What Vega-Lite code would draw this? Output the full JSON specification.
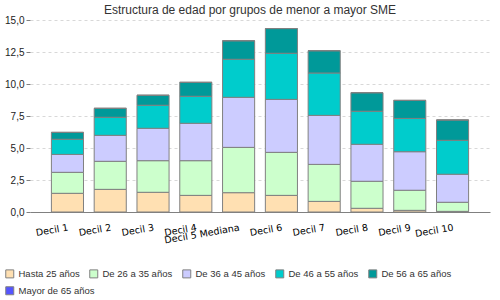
{
  "$schema": "https://vega.github.io/schema/vega-lite/v6.json",
  "width": 460,
  "height": 192,
  "autosize": {"type": "none"},
  "padding": {"left": 30, "top": 20, "right": 10, "bottom": 88},
  "background": "white",
  "title": {
    "text": "Estructura de edad por grupos de menor a mayor SME",
    "font": "Liberation Sans",
    "fontSize": 12,
    "fontWeight": "normal",
    "color": "#333333",
    "anchor": "middle",
    "dx": -10,
    "offset": -2
  },
  "config": {
    "view": {"stroke": null}
  },
  "data": {
    "values": [
      {"decil": "Decil 1", "grupo": "Hasta 25 años", "n": 1, "valor": 1.46},
      {"decil": "Decil 1", "grupo": "De 26 a 35 años", "n": 2, "valor": 1.64},
      {"decil": "Decil 1", "grupo": "De 36 a 45 años", "n": 3, "valor": 1.40},
      {"decil": "Decil 1", "grupo": "De 46 a 55 años", "n": 4, "valor": 1.18},
      {"decil": "Decil 1", "grupo": "De 56 a 65 años", "n": 5, "valor": 0.54},
      {"decil": "Decil 1", "grupo": "Mayor de 65 años", "n": 6, "valor": 0},
      {"decil": "Decil 2", "grupo": "Hasta 25 años", "n": 1, "valor": 1.77},
      {"decil": "Decil 2", "grupo": "De 26 a 35 años", "n": 2, "valor": 2.19},
      {"decil": "Decil 2", "grupo": "De 36 a 45 años", "n": 3, "valor": 2.03},
      {"decil": "Decil 2", "grupo": "De 46 a 55 años", "n": 4, "valor": 1.41},
      {"decil": "Decil 2", "grupo": "De 56 a 65 años", "n": 5, "valor": 0.70},
      {"decil": "Decil 2", "grupo": "Mayor de 65 años", "n": 6, "valor": 0},
      {"decil": "Decil 3", "grupo": "Hasta 25 años", "n": 1, "valor": 1.54},
      {"decil": "Decil 3", "grupo": "De 26 a 35 años", "n": 2, "valor": 2.47},
      {"decil": "Decil 3", "grupo": "De 36 a 45 años", "n": 3, "valor": 2.53},
      {"decil": "Decil 3", "grupo": "De 46 a 55 años", "n": 4, "valor": 1.80},
      {"decil": "Decil 3", "grupo": "De 56 a 65 años", "n": 5, "valor": 0.78},
      {"decil": "Decil 3", "grupo": "Mayor de 65 años", "n": 6, "valor": 0},
      {"decil": "Decil 4", "grupo": "Hasta 25 años", "n": 1, "valor": 1.30},
      {"decil": "Decil 4", "grupo": "De 26 a 35 años", "n": 2, "valor": 2.71},
      {"decil": "Decil 4", "grupo": "De 36 a 45 años", "n": 3, "valor": 2.92},
      {"decil": "Decil 4", "grupo": "De 46 a 55 años", "n": 4, "valor": 2.11},
      {"decil": "Decil 4", "grupo": "De 56 a 65 años", "n": 5, "valor": 1.09},
      {"decil": "Decil 4", "grupo": "Mayor de 65 años", "n": 6, "valor": 0},
      {"decil": "Decil 5 Mediana", "grupo": "Hasta 25 años", "n": 1, "valor": 1.51},
      {"decil": "Decil 5 Mediana", "grupo": "De 26 a 35 años", "n": 2, "valor": 3.54},
      {"decil": "Decil 5 Mediana", "grupo": "De 36 a 45 años", "n": 3, "valor": 3.91},
      {"decil": "Decil 5 Mediana", "grupo": "De 46 a 55 años", "n": 4, "valor": 2.97},
      {"decil": "Decil 5 Mediana", "grupo": "De 56 a 65 años", "n": 5, "valor": 1.45},
      {"decil": "Decil 5 Mediana", "grupo": "Mayor de 65 años", "n": 6, "valor": 0},
      {"decil": "Decil 6", "grupo": "Hasta 25 años", "n": 1, "valor": 1.30},
      {"decil": "Decil 6", "grupo": "De 26 a 35 años", "n": 2, "valor": 3.36},
      {"decil": "Decil 6", "grupo": "De 36 a 45 años", "n": 3, "valor": 4.14},
      {"decil": "Decil 6", "grupo": "De 46 a 55 años", "n": 4, "valor": 3.60},
      {"decil": "Decil 6", "grupo": "De 56 a 65 años", "n": 5, "valor": 1.93},
      {"decil": "Decil 6", "grupo": "Mayor de 65 años", "n": 6, "valor": 0},
      {"decil": "Decil 7", "grupo": "Hasta 25 años", "n": 1, "valor": 0.83},
      {"decil": "Decil 7", "grupo": "De 26 a 35 años", "n": 2, "valor": 2.89},
      {"decil": "Decil 7", "grupo": "De 36 a 45 años", "n": 3, "valor": 3.83},
      {"decil": "Decil 7", "grupo": "De 46 a 55 años", "n": 4, "valor": 3.31},
      {"decil": "Decil 7", "grupo": "De 56 a 65 años", "n": 5, "valor": 1.74},
      {"decil": "Decil 7", "grupo": "Mayor de 65 años", "n": 6, "valor": 0},
      {"decil": "Decil 8", "grupo": "Hasta 25 años", "n": 1, "valor": 0.29},
      {"decil": "Decil 8", "grupo": "De 26 a 35 años", "n": 2, "valor": 2.11},
      {"decil": "Decil 8", "grupo": "De 36 a 45 años", "n": 3, "valor": 2.89},
      {"decil": "Decil 8", "grupo": "De 46 a 55 años", "n": 4, "valor": 2.58},
      {"decil": "Decil 8", "grupo": "De 56 a 65 años", "n": 5, "valor": 1.45},
      {"decil": "Decil 8", "grupo": "Mayor de 65 años", "n": 6, "valor": 0},
      {"decil": "Decil 9", "grupo": "Hasta 25 años", "n": 1, "valor": 0.13},
      {"decil": "Decil 9", "grupo": "De 26 a 35 años", "n": 2, "valor": 1.57},
      {"decil": "Decil 9", "grupo": "De 36 a 45 años", "n": 3, "valor": 3.01},
      {"decil": "Decil 9", "grupo": "De 46 a 55 años", "n": 4, "valor": 2.60},
      {"decil": "Decil 9", "grupo": "De 56 a 65 años", "n": 5, "valor": 1.41},
      {"decil": "Decil 9", "grupo": "Mayor de 65 años", "n": 6, "valor": 0},
      {"decil": "Decil 10", "grupo": "Hasta 25 años", "n": 1, "valor": 0.05},
      {"decil": "Decil 10", "grupo": "De 26 a 35 años", "n": 2, "valor": 0.71},
      {"decil": "Decil 10", "grupo": "De 36 a 45 años", "n": 3, "valor": 2.19},
      {"decil": "Decil 10", "grupo": "De 46 a 55 años", "n": 4, "valor": 2.65},
      {"decil": "Decil 10", "grupo": "De 56 a 65 años", "n": 5, "valor": 1.59},
      {"decil": "Decil 10", "grupo": "Mayor de 65 años", "n": 6, "valor": 0}
    ]
  },
  "encoding": {
    "x": {
      "field": "decil",
      "type": "nominal",
      "sort": null,
      "scale": {"paddingInner": 0.25, "paddingOuter": 0.5},
      "axis": {
        "title": null,
        "ticks": false,
        "domainColor": "#808080",
        "labelAngle": -10,
        "labelAlign": "right",
        "labelBaseline": "top",
        "labelPadding": 10,
        "labelDx": 5,
        "labelFont": "DejaVu Sans",
        "labelFontSize": 9.5,
        "labelColor": "#000000",
        "grid": false
      }
    },
    "y": {
      "field": "valor",
      "type": "quantitative",
      "scale": {"domain": [0, 15], "nice": false},
      "axis": {
        "title": null,
        "values": [0, 2.5, 5, 7.5, 10, 12.5, 15],
        "labelExpr": "replace(format(datum.value, '.1f'), '.', ',')",
        "domain": false,
        "tickSize": 4,
        "tickColor": "#808080",
        "labelPadding": 2,
        "labelFont": "Liberation Sans",
        "labelFontSize": 10,
        "labelColor": "#222222",
        "gridColor": "#d8d8d8",
        "gridDash": [3, 3]
      }
    }
  },
  "layer": [
    {
      "mark": {"type": "bar", "stroke": "#808080", "strokeWidth": 1},
      "encoding": {
        "y": {"field": "valor", "type": "quantitative", "stack": "zero"},
        "color": {
          "field": "grupo",
          "type": "nominal",
          "scale": {
            "domain": ["Hasta 25 años", "De 26 a 35 años", "De 36 a 45 años", "De 46 a 55 años", "De 56 a 65 años", "Mayor de 65 años"],
            "range": ["#FFE0B2", "#CCFFCC", "#CCCCFF", "#00CCCC", "#009999", "#5555FF"]
          },
          "legend": {
            "title": null,
            "values": ["Hasta 25 años", "De 26 a 35 años", "De 36 a 45 años", "De 46 a 55 años", "De 56 a 65 años"],
            "orient": "none",
            "legendX": -25,
            "legendY": 249,
            "direction": "horizontal",
            "symbolType": "square",
            "symbolSize": 64,
            "symbolStrokeColor": "#808080",
            "symbolStrokeWidth": 1,
            "symbolOpacity": 1,
            "labelFont": "Liberation Sans",
            "labelFontSize": 9.5,
            "labelColor": "#333333",
            "labelOffset": 4,
            "columnPadding": 7
          }
        },
        "order": {"field": "n", "type": "quantitative", "sort": "ascending"}
      }
    },
    {
      "transform": [{"filter": "datum.grupo === 'Mayor de 65 años'"}],
      "mark": {"type": "point", "shape": "square", "filled": true, "opacity": 0},
      "encoding": {
        "fill": {
          "field": "grupo",
          "type": "nominal",
          "scale": {"domain": ["Mayor de 65 años"], "range": ["#5555FF"]},
          "legend": {
            "title": null,
            "orient": "none",
            "legendX": -25,
            "legendY": 266,
            "direction": "horizontal",
            "symbolType": "square",
            "symbolSize": 64,
            "symbolStrokeColor": "#808080",
            "symbolStrokeWidth": 1,
            "symbolOpacity": 1,
            "labelFont": "Liberation Sans",
            "labelFontSize": 9.5,
            "labelColor": "#333333",
            "labelOffset": 4
          }
        }
      }
    }
  ]
}
